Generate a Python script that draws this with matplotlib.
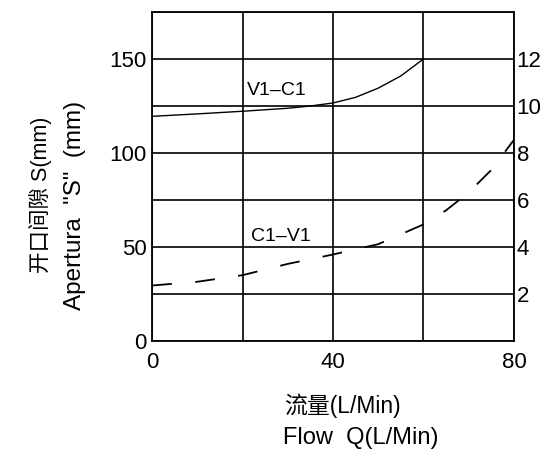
import matplotlib
matplotlib.use("Agg")
import matplotlib.pyplot as plt
from matplotlib.ticker import MultipleLocator

plt.rcParams['font.family'] = ['Liberation Sans', 'Noto Sans CJK SC']

# V1-C1 curve (solid)
flow_v1c1 = [0, 10, 20, 30, 35, 40, 45, 50, 55, 60]
gap_v1c1 = [119.5, 120.8, 122.2, 123.8, 125, 126.6, 129.6, 134.5, 141, 150]

# C1-V1 curve (dashed)
flow_c1v1 = [0, 10, 20, 30, 40, 50, 60, 65, 70, 75, 80]
gap_c1v1 = [29.5, 31.5, 35, 41, 46, 51.5, 62, 69.5, 79, 91, 107]

x_ticks = [0, 40, 80]
left_ticks = [0, 50, 100, 150]
right_ticks = [2, 4, 6, 8, 10, 12]

fig = plt.figure(figsize=(5.41, 4.58), dpi=100)
ax = fig.add_axes([0.281, 0.2555, 0.669, 0.7183])

ax.plot(flow_v1c1, gap_v1c1, color='black', lw=1.0)
ax.plot(flow_c1v1, gap_c1v1, color='black', lw=1.3, linestyle=(0, (11, 13)))

ax.set_xlim(0, 80)
ax.set_ylim(0, 175)
ax.set_xticks(x_ticks)
ax.set_yticks(left_ticks)
ax.xaxis.set_minor_locator(MultipleLocator(20))
ax.yaxis.set_minor_locator(MultipleLocator(25))
ax.grid(which='both', color='black', lw=1.2)
ax.tick_params(which='both', length=0, labelsize=16)
ax.tick_params(axis='y', pad=4)
ax.tick_params(axis='x', pad=8)
for s in ax.spines.values():
    s.set_linewidth(1.3)

ax2 = ax.twinx()
ax2.set_ylim(0, 14)
ax2.set_yticks(right_ticks)
ax2.tick_params(length=0, labelsize=16, pad=2)
for s in ax2.spines.values():
    s.set_visible(False)

ax.text(21, 133.3, 'V1\u2013C1', fontsize=14, ha='left', va='center')
ax.text(21.9, 55.7, 'C1\u2013V1', fontsize=14, ha='left', va='center')

fig.text(0.074, 0.574, '开口间隙 S(mm)', rotation=90, fontsize=15.5, ha='center', va='center')
fig.text(0.139, 0.552, 'Apertura  "S"  (mm)', rotation=90, fontsize=17.5, ha='center', va='center')

fig.text(0.525, 0.115, '流量(L/Min)', fontsize=16.5, ha='left', va='center')
fig.text(0.523, 0.044, 'Flow  Q(L/Min)', fontsize=17, ha='left', va='center')

fig.savefig('out.png', dpi=100)
